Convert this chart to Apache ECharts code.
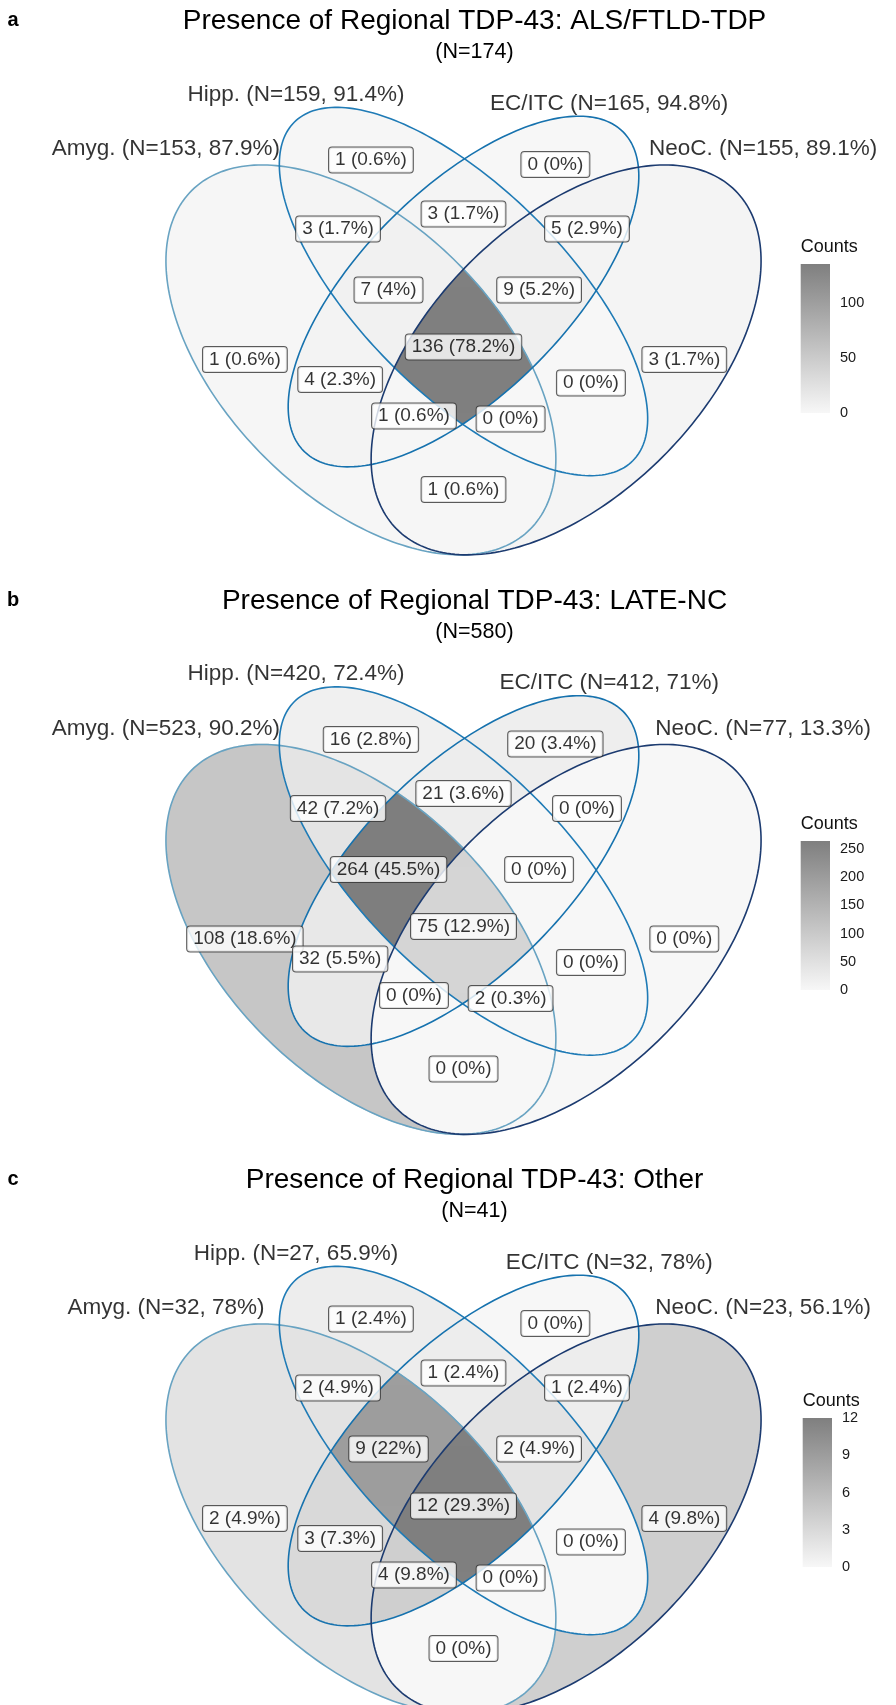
<!DOCTYPE html>
<html><head><meta charset="utf-8">
<script src="https://cdn.jsdelivr.net/npm/echarts@6/dist/echarts.min.js"></script>
<style>html,body{margin:0;padding:0;background:#fff}#c{width:896px;height:1705px}</style>
</head><body><div id="c"></div>
<script>
// ---------------- data ----------------
const SET_NAMES = ['Amyg.', 'Hipp.', 'EC/ITC', 'NeoC.'];
// region keys: A=Amyg, B=Hipp, C=EC/ITC, D=NeoC
const REGION_KEYS = ['A','B','C','D','AB','AC','AD','BC','BD','CD','ABC','ABD','ACD','BCD','ABCD'];
const PANEL_LETTERS = ['a','b','c'];
const PANEL_TITLES = ['Presence of Regional TDP-43: ALS/FTLD-TDP','Presence of Regional TDP-43: LATE-NC','Presence of Regional TDP-43: Other'];
const COUNTS_A = [1,1,0,3,3,4,1,3,0,5,7,0,1,9,136];
const COUNTS_B = [108,16,20,0,42,32,0,21,0,0,264,2,0,0,75];
const COUNTS_C = [2,1,0,4,2,3,0,1,0,1,9,0,4,2,12];
const TICKS_A = [0,50,100];
const TICKS_B = [0,50,100,150,200,250];
const TICKS_C = [0,3,6,9,12];
const LEGEND_TITLE = 'Counts';

// ---------------- layout / style ----------------
const ELLIPSES = [[0.35,0.47,0.35,0.20,135],[0.50,0.57,0.35,0.15,135],[0.50,0.57,0.33,0.15,45],[0.65,0.47,0.35,0.20,45]];
const SET_LABEL_POS = [[0.065,0.778],[0.255,0.858],[0.713,0.845],[0.938,0.778]];
const STROKES = ['#68A3C2','#1F7BB6','#1672AE','#1C3B70'];
const LOW = '#F7F7F7', HIGH = '#7F7F7F';
const FONT = '"Liberation Sans", Arial, Helvetica, sans-serif';
const STEP = 579.5;       // vertical distance between venn panels
const LEG_STEP = 577;     // vertical distance between colour bars
const LEGEND_LEFT = [800.7, 800.7, 802.7];

const PANELS = [
  {counts: COUNTS_A, ticks: TICKS_A},
  {counts: COUNTS_B, ticks: TICKS_B},
  {counts: COUNTS_C, ticks: TICKS_C}
];

// ---------------- geometry: scanline decomposition of regions ----------------
function intervalAt(e, y) {
  const [x0, y0, a, b, r] = e;
  const t = r * Math.PI / 180, c = Math.cos(t), s = Math.sin(t);
  const dy = y - y0;
  const A = c*c/(a*a) + s*s/(b*b);
  const B = 2*dy*(c*s/(a*a) - s*c/(b*b));
  const C = dy*dy*(s*s/(a*a) + c*c/(b*b)) - 1;
  const D = B*B - 4*A*C;
  if (D < 0) return null;
  const sq = Math.sqrt(D);
  return [x0 + (-B - sq)/(2*A), x0 + (-B + sq)/(2*A)];
}
const keyIndex = {}; REGION_KEYS.forEach((k, i) => keyIndex[k] = i);
function segmentsAt(y) {
  const ivs = ELLIPSES.map(e => intervalAt(e, y));
  const pts = [];
  ivs.forEach(iv => { if (iv) pts.push(iv[0], iv[1]); });
  pts.sort((p, q) => p - q);
  const out = [];
  for (let i = 0; i < pts.length - 1; i++) {
    const x1 = pts[i], x2 = pts[i+1];
    if (x2 - x1 < 1e-9) continue;
    const xm = (x1 + x2) / 2;
    let key = '';
    ivs.forEach((iv, j) => { if (iv && xm > iv[0] && xm < iv[1]) key += 'ABCD'[j]; });
    if (key) out.push([keyIndex[key], x1, x2]);
  }
  return out;
}
const DY = 1/684;
const SEGS = REGION_KEYS.map(() => []);
const YR = REGION_KEYS.map(() => [Infinity, -Infinity]);
for (let y = 0.17; y <= 0.86; y += DY) {
  segmentsAt(y).forEach(([ri, x1, x2]) => {
    SEGS[ri].push([x1, x2, y]);
    YR[ri][0] = Math.min(YR[ri][0], y); YR[ri][1] = Math.max(YR[ri][1], y);
  });
}
// label anchor: interior point (middle of the widest span on the region's mid-height line)
const ANCHORS = REGION_KEYS.map((k, ri) => {
  const ym = (YR[ri][0] + YR[ri][1]) / 2;
  let best = null;
  segmentsAt(ym).forEach(([r, x1, x2]) => { if (r === ri && (!best || x2 - x1 > best[1] - best[0])) best = [x1, x2]; });
  return [(best[0] + best[1]) / 2, ym];
});

function pct(v, n) { return String(Math.round(v / n * 1000) / 10); }

// ---------------- build option ----------------
const grid = [], xAxis = [], yAxis = [], series = [], visualMap = [], graphic = [];
PANELS.forEach((P, p) => {
  const oy = p * STEP;
  grid[p] = {left: 121.5, top: 65.8 + oy, width: 684, height: 547.2, containLabel: false, outerBoundsMode: 'none'};
  xAxis[p] = {type: 'value', gridIndex: p, min: 0, max: 1, show: false};
  yAxis[p] = {type: 'value', gridIndex: p, min: 0.1, max: 0.9, show: false};
});
PANELS.forEach((P, p) => {
  const oy = p * STEP, ly = p * LEG_STEP;
  const N = P.counts.reduce((s, v) => s + v, 0);
  const maxC = Math.max.apply(null, P.counts);
  const setTotals = SET_NAMES.map((_, j) => P.counts.reduce((s, v, i) => s + (REGION_KEYS[i].indexOf('ABCD'[j]) >= 0 ? v : 0), 0));

  // fills
  visualMap.push({type: 'continuous', show: false, seriesIndex: series.length, dimension: 1, min: 0, max: maxC, inRange: {color: [LOW, HIGH]}});
  series.push({
    type: 'custom', xAxisIndex: p, yAxisIndex: p, silent: true, animation: false, z: 1,
    data: P.counts.map((v, i) => [i, v]),
    renderItem: (params, api) => {
      const ri = api.value(0);
      const color = api.visual('color');
      const children = SEGS[ri].map(([x1, x2, y]) => {
        const a = api.coord([x1, y + DY/2]);
        const b = api.coord([x2, y - DY/2]);
        return {type: 'rect', shape: {x: a[0], y: a[1] - 0.35, width: b[0] - a[0], height: b[1] - a[1] + 0.7}, style: {fill: color}};
      });
      return {type: 'group', children};
    }
  });
  // outlines
  series.push({
    type: 'custom', xAxisIndex: p, yAxisIndex: p, silent: true, animation: false, z: 3,
    data: ELLIPSES.map((e, i) => [i, 0]),
    renderItem: (params, api) => {
      const i = api.value(0);
      const [x0, y0, a, b, r] = ELLIPSES[i];
      const t = r * Math.PI / 180, c = Math.cos(t), s = Math.sin(t);
      const pts = [];
      for (let k = 0; k < 240; k++) {
        const th = k / 240 * Math.PI * 2;
        const px = x0 + a*Math.cos(th)*c - b*Math.sin(th)*s;
        const py = y0 + a*Math.cos(th)*s + b*Math.sin(th)*c;
        pts.push(api.coord([px, py]));
      }
      return {type: 'polygon', shape: {points: pts}, style: {fill: 'none', stroke: STROKES[i], lineWidth: 1.6}};
    }
  });
  // count labels
  series.push({
    type: 'scatter', xAxisIndex: p, yAxisIndex: p, silent: true, animation: false, z: 5,
    symbolSize: 1, itemStyle: {color: 'rgba(0,0,0,0)'},
    data: P.counts.map((v, i) => [ANCHORS[i][0], ANCHORS[i][1], v]),
    label: {
      show: true, position: 'inside', fontFamily: FONT, fontSize: 19, color: '#000', lineHeight: 20,
      textBorderWidth: 0, textBorderColor: 'transparent',
      backgroundColor: '#fff', borderColor: '#333', borderWidth: 1, borderRadius: 3, padding: [3, 6, 2, 6],
      formatter: (d) => d.value[2] + ' (' + pct(d.value[2], N) + '%)'
    },
    labelLayout: {hideOverlap: false}
  });
  // set labels
  series.push({
    type: 'scatter', xAxisIndex: p, yAxisIndex: p, silent: true, animation: false, z: 5,
    symbolSize: 1, itemStyle: {color: 'rgba(0,0,0,0)'},
    data: SET_NAMES.map((nm, j) => [SET_LABEL_POS[j][0], SET_LABEL_POS[j][1], j]),
    label: {
      show: true, position: 'inside', fontFamily: FONT, fontSize: 22.5, color: '#000',
      textBorderWidth: 0, textBorderColor: 'transparent',
      formatter: (d) => { const j = d.value[2]; return SET_NAMES[j] + ' (N=' + setTotals[j] + ', ' + pct(setTotals[j], N) + '%)'; }
    }
  });

  // legend colorbar
  const gi = 3 + p;
  grid[gi] = {left: LEGEND_LEFT[p], top: 264 + ly, width: 29.3, height: 149, containLabel: false, outerBoundsMode: 'none'};
  xAxis[gi] = {type: 'value', gridIndex: gi, min: 0, max: 1, show: false};
  const tickCommon = {show: true, inside: true, length: 6, lineStyle: {color: 'rgba(255,255,255,0.85)', width: 1}, customValues: P.ticks};
  const yL = 3 + 2*p, yR = 4 + 2*p;
  yAxis[yL] = {type: 'value', gridIndex: gi, position: 'left', min: 0, max: maxC, interval: P.ticks[1] - P.ticks[0],
    axisLine: {show: false}, splitLine: {show: false}, axisTick: tickCommon, axisLabel: {show: false}};
  yAxis[yR] = {type: 'value', gridIndex: gi, position: 'right', min: 0, max: maxC, interval: P.ticks[1] - P.ticks[0],
    axisLine: {show: false}, splitLine: {show: false}, axisTick: tickCommon,
    axisLabel: {show: true, margin: 10, fontFamily: FONT, fontSize: 14.5, color: '#1a1a1a', customValues: P.ticks}};
  series.push({
    type: 'custom', xAxisIndex: gi, yAxisIndex: yL, silent: true, animation: false, z: 1,
    data: [[0, maxC]],
    renderItem: (params, api) => {
      const a = api.coord([0, api.value(1)]);
      const b = api.coord([1, 0]);
      return {type: 'rect', shape: {x: a[0], y: a[1], width: b[0] - a[0], height: b[1] - a[1]},
        style: {fill: {type: 'linear', x: 0, y: 1, x2: 0, y2: 0, colorStops: [{offset: 0, color: LOW}, {offset: 1, color: HIGH}]}}};
    }
  });

  // texts
  graphic.push({type: 'text', x: 13, y: 20.5 + oy, style: {text: PANEL_LETTERS[p], font: 'bold 20px ' + FONT, fill: '#000', textAlign: 'center', textVerticalAlign: 'middle'}});
  graphic.push({type: 'text', x: 474.5, y: 21.5 + oy, style: {text: PANEL_TITLES[p], font: '28px ' + FONT, fill: '#000', textAlign: 'center', textVerticalAlign: 'middle'}});
  graphic.push({type: 'text', x: 474.5, y: 52.5 + oy, style: {text: '(N=' + N + ')', font: '21.5px ' + FONT, fill: '#000', textAlign: 'center', textVerticalAlign: 'middle'}});
  graphic.push({type: 'text', x: LEGEND_LEFT[p], y: 246.7 + ly, style: {text: LEGEND_TITLE, font: '18px ' + FONT, fill: '#111', textAlign: 'left', textVerticalAlign: 'middle'}});
});

const chart = echarts.init(document.getElementById('c'), null, {renderer: 'canvas', width: 896, height: 1705});
chart.setOption({
  animation: false,
  backgroundColor: '#ffffff',
  grid, xAxis, yAxis, series, visualMap, graphic
});
</script>
</body></html>
